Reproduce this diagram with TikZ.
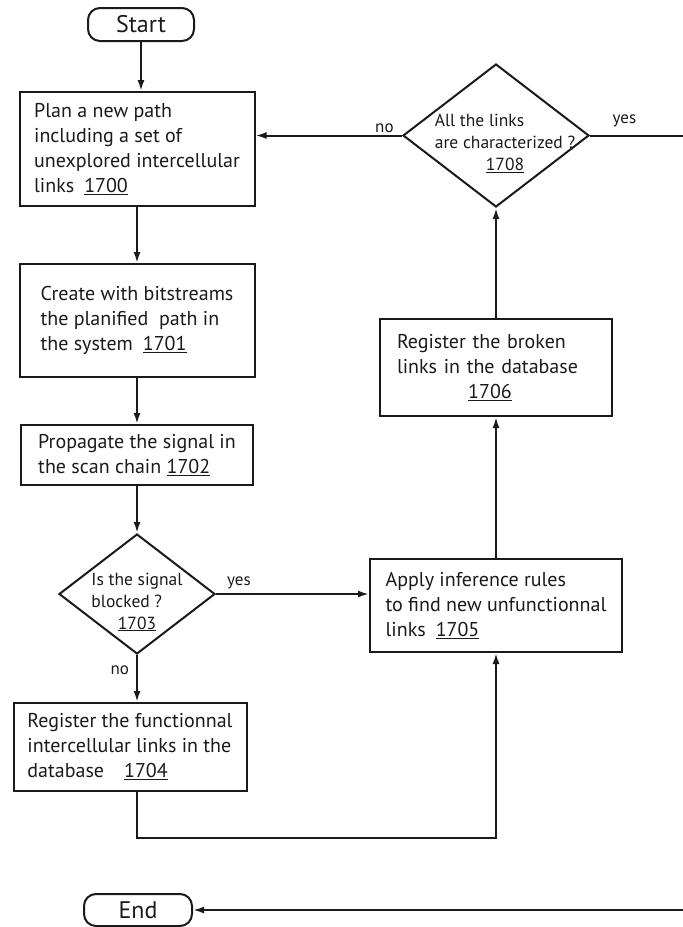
\documentclass[tikz,border=0pt]{standalone}
\usepackage{fontspec}
\setmainfont{PT Sans}
\usetikzlibrary{arrows.meta,positioning,shapes.geometric}
\definecolor{fcInk}{HTML}{1A1A1A}
\newcommand{\refnum}[1]{\underline{#1}}
\newcommand{\dtext}[2][0pt]{\makebox[0pt]{\hspace{#1}\raisebox{-13pt}[0pt][0pt]{\begin{tabular}{@{}l@{}}#2\end{tabular}}}}
\tikzset{
  fcterm/.style={
    rectangle, rounded corners=12pt, draw=fcInk, line width=2pt,
    text=fcInk, font=\fontsize{24}{28}\selectfont,
    inner sep=0pt, minimum width=106pt, minimum height=33pt
  },
  fcbox/.style={
    rectangle, draw=fcInk, line width=2pt,
    text=fcInk, font=\fontsize{20}{25}\selectfont,
    align=left, inner sep=0pt
  },
  fcdec/.style={
    diamond, draw=fcInk, line width=2pt,
    text=fcInk, font=\fontsize{17.5}{22}\selectfont, inner sep=0pt
  },
  fclink/.style={-{Latex[length=11pt,width=7pt]}, draw=fcInk, line width=2pt},
  fcline/.style={draw=fcInk, line width=2pt},
  fclabel/.style={font=\fontsize{17}{20}\selectfont, text=fcInk, inner sep=2pt}
}

\begin{document}
\begin{tikzpicture}[x=1pt, y=-1pt]
\useasboundingbox (0,0) rectangle (683,927);

% Start
\node[fcterm] (start) at (141,24.5) {Start};

% Left column
\node[fcbox, minimum width=235pt, minimum height=114pt, below=49pt of start, xshift=-4pt] (plan) {Plan a new path\\including a set of\\unexplored intercellular\\links\enspace\refnum{1700}};
\node[fcbox, minimum width=235pt, minimum height=113pt, below=56pt of plan] (create) {Create with bitstreams\\the planified\ \ path in\\the system\enspace\refnum{1701}};
\node[fcbox, minimum width=232pt, minimum height=60pt, below=46pt of create] (propagate) {Propagate the signal in\\the scan chain \refnum{1702}};
\node[fcdec, minimum width=156pt, minimum height=120pt, below=47pt of propagate] (blocked) {\dtext{Is the signal\\blocked ?\\\multicolumn{1}{c}{\refnum{1703}}}};
\node[fcbox, minimum width=233pt, minimum height=88pt, below=47pt of blocked, xshift=-7pt] (funcreg) {Register the functionnal\\intercellular links in the\\database\quad\refnum{1704}};

% Right column
\node[fcbox, minimum width=252pt, minimum height=93pt, right=153pt of blocked, yshift=-11.5pt] (apply) {Apply inference rules\\to find new unfunctionnal\\links\enspace\refnum{1705}};
\node[fcbox, minimum width=232pt, minimum height=97pt, text width=198pt, above=141pt of apply] (faulty) {Register the broken\\links in the database\\\makebox[186pt]{\refnum{1706}}};
\node[fcdec, minimum width=186pt, minimum height=143pt, above=110pt of faulty] (allchar) {\dtext[18pt]{All the links\\are characterized ?\\\multicolumn{1}{c}{\refnum{1708}}}};

% End
\node[fcterm, minimum width=108pt, minimum height=32pt, below=101pt of funcreg, xshift=8pt] (finish) {End};
\coordinate (rim) at (683,0);

% Links
\draw[fclink] (start.south) -- (start.south |- plan.north);
\draw[fclink] (plan) -- (create);
\draw[fclink] (create) -- (propagate);
\draw[fclink] (propagate) -- (blocked);
\draw[fclink] (blocked.south) -- node[fclabel, left=5pt, pos=0.32]{no} (blocked.south |- funcreg.north);
\draw[fclink] (blocked.east) -- node[fclabel, above, pos=0.15, yshift=2pt]{yes} (blocked.east -| apply.west);
\draw[fclink] (blocked.south |- funcreg.south) -- ++(0,46) -| (apply.south);
\draw[fclink] (apply) -- (faulty);
\draw[fclink] (faulty) -- (allchar);
\draw[fclink] (allchar.west) -- node[fclabel, above, pos=0.12]{no} (allchar.west -| plan.east);
\draw[fcline] (allchar.east) -- node[fclabel, above, pos=0.37, yshift=6pt]{yes} (rim |- allchar.east);
\draw[fclink] (rim |- finish.east) -- (finish.east);

\end{tikzpicture}
\end{document}
